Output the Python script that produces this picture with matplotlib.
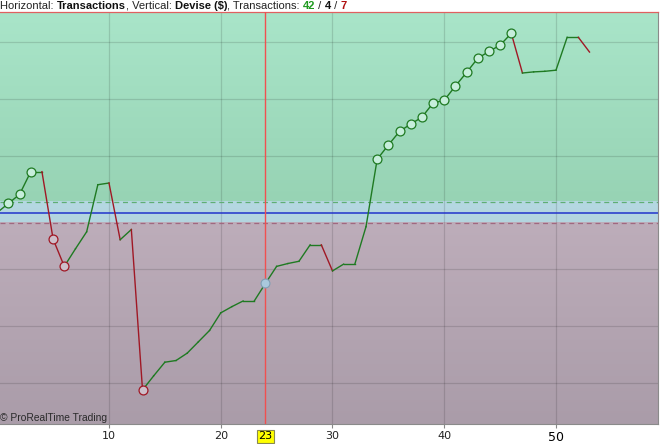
import numpy as np
import matplotlib
matplotlib.use("Agg")
import matplotlib.pyplot as plt
from matplotlib.colors import LinearSegmentedColormap

# equity after each transaction, in grid units (thousands of $)
trade_no = list(range(0, 54))
equity = [0.0, 0.16, 0.32, 0.72, 0.72, -0.47, -0.95, -0.64, -0.34, 0.49,
          0.52, -0.48, -0.30, -3.13, -2.88, -2.64, -2.61, -2.48, -2.28, -2.08,
          -1.77, -1.66, -1.56, -1.56, -1.25, -0.95, -0.90, -0.86, -0.57, -0.57,
          -1.03, -0.91, -0.91, -0.25, 0.94, 1.19, 1.43, 1.56, 1.68, 1.93,
          1.98, 2.23, 2.47, 2.72, 2.84, 2.95, 3.16, 2.46, 2.48, 2.49,
          2.51, 3.09, 3.09, 2.83]
x_ticks = [10, 20, 30, 40, 50]
cursor_x = 24
cursor_label = "23"
upper_band = 0.19
lower_band = -0.185
n_win, n_flat, n_loss = 42, 4, 7

W, H = 660, 444
fig = plt.figure(figsize=(W / 100, H / 100), dpi=100)
ax = fig.add_axes([0, (H - 424.3) / H, 658 / W, (424.3 - 12) / H])
xmin, xmax = 0.246, 59.13
ymin, ymax = -3.735, 3.536

# background zones
def grad(c_top, c_bot, y0, y1):
    cmap = LinearSegmentedColormap.from_list("g", [c_bot, c_top])
    ax.imshow(np.linspace(0, 1, 128).reshape(-1, 1), cmap=cmap, origin="lower",
              extent=[xmin, xmax, y0, y1], aspect="auto", zorder=0)

grad("#a9e5c9", "#97d3b4", upper_band, ymax)
grad("#b5d8e2", "#b3d5df", lower_band, upper_band)
grad("#bdadba", "#aa9ca9", ymin, lower_band)
ax.set_xlim(xmin, xmax)
ax.set_ylim(ymin, ymax)

# grid
for v in x_ticks:
    ax.axvline(v, color="#000000", alpha=0.13, lw=0.9, zorder=1)
for v in range(-3, 4):
    if v != 0:
        ax.axhline(v, color="#000000", alpha=0.13, lw=0.9, zorder=1)

ax.axhline(0, color="#2233cc", lw=1.1, zorder=2)
ax.axhline(upper_band, color="#5fae74", lw=0.9, ls=(0, (4, 3)), zorder=2)
ax.axhline(lower_band, color="#a06880", lw=0.9, ls=(0, (4, 3)), zorder=2)

# equity line, green when up or flat, red when down
for i in range(len(equity) - 1):
    col = "#1f7a22" if equity[i + 1] >= equity[i] else "#a01825"
    ax.plot(trade_no[i:i + 2], equity[i:i + 2], color=col, lw=1.0, zorder=3)

# markers on new highs / new lows
hi, lo = equity[0], equity[0]
for x, v in zip(trade_no[1:], equity[1:]):
    if v > hi:
        hi = v
        ax.plot(x, v, "o", ms=6.4, mfc="#c6eedb", mec="#1f7a22", mew=0.9, zorder=4)
    elif v < lo:
        lo = v
        ax.plot(x, v, "o", ms=6.4, mfc="#cdbfca", mec="#a01825", mew=0.9, zorder=4)

# cursor
ax.axvline(cursor_x, color="#f05050", lw=1.0, zorder=5)
ax.plot(cursor_x, equity[cursor_x], "o", ms=6.4, mfc="#a9c8dc", mec="#7f9fb5", mew=0.8, zorder=6)

ax.set_yticks([])
ax.set_xticks(x_ticks)
ax.set_xticklabels([str(t) for t in x_ticks])
ax.tick_params(axis="x", length=3, color="#888888", labelsize=8, labelcolor="#222222", pad=2)
lab50 = ax.get_xticklabels()[-1]
lab50.set_fontsize(9)
lab50.set_color("#000000")
ax.spines["left"].set_visible(False)
for s in ["right", "bottom"]:
    ax.spines[s].set_color("#8a8a8a")
ax.spines["top"].set_color("#e06060")
ax.spines["top"].set_linewidth(0.9)

ax.annotate(cursor_label, xy=(cursor_x, ymin), xycoords="data", xytext=(0, -8.6),
            textcoords="offset points", ha="center", va="center", fontsize=8,
            color="#000000",
            bbox=dict(boxstyle="square,pad=0.15", fc="#ffff00", ec="#8a8a50", lw=0.8),
            annotation_clip=False, zorder=10)

ax.text(0.0, 0.004, "\u00a9 ProRealTime Trading", transform=ax.transAxes,
        fontsize=7.4, color="#2a2a2a", family="Liberation Sans", va="bottom", ha="left")

# header
renderer = fig.canvas.get_renderer()
parts = [("Horizontal: ", "normal", "#222222"), ("Transactions", "bold", "#111111"),
         (", Vertical: ", "normal", "#222222"), ("Devise ($)", "bold", "#111111"),
         (", Transactions: ", "normal", "#222222"), (str(n_win), "bold", "#1e9a1e"),
         (" / ", "normal", "#222222"), (str(n_flat), "bold", "#111111"),
         (" / ", "normal", "#222222"), (str(n_loss), "bold", "#b01010")]
xpos = 0.0
for txt, wt, col in parts:
    t = fig.text(xpos / W, 1 - 6 / H, txt, fontsize=8, fontweight=wt, color=col,
                 family="Liberation Sans", va="center", ha="left")
    xpos = t.get_window_extent(renderer).x1

fig.savefig("out.png", dpi=100)
